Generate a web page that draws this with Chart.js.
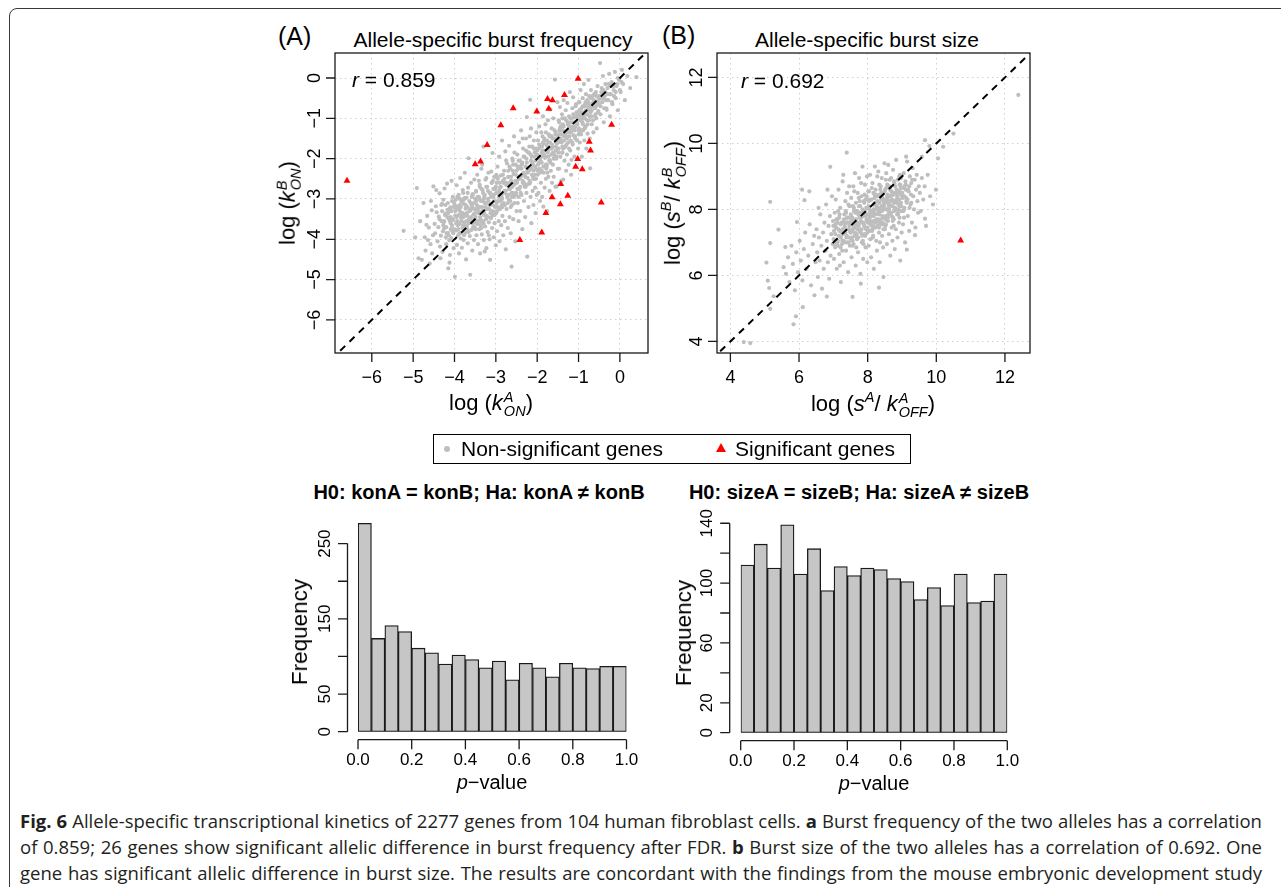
<!DOCTYPE html>
<html>
<head>
<meta charset="utf-8">
<script src="https://cdn.jsdelivr.net/npm/chart.js@4.4.1/dist/chart.umd.min.js"></script>
<style>
  body { margin: 0; background: #fff; }
  #page { position: relative; width: 1281px; height: 887px; overflow: hidden; background: #fff;
          font-family: 'Liberation Sans', Arial, sans-serif; color: #000; }
  #frame { position: absolute; left: 9px; top: 8px; width: 1320px; height: 1000px;
           border: 1.5px solid #3a3a3a; border-radius: 8px; }
  canvas { position: absolute; }
  .c { position: absolute; white-space: nowrap; transform: translate(-50%, -50%); }
  .l { position: absolute; white-space: nowrap; transform: translateY(-50%); }
  .rot { transform: translate(-50%, -50%) rotate(-90deg); }
  .ss { display: inline-flex; flex-direction: column; vertical-align: 0.55em; font-size: 0.66em;
        font-style: italic; line-height: 0.95; margin-left: 1px; }
  .sp { font-size: 0.66em; font-style: italic; vertical-align: 0.6em; }
  .cap { position: absolute; left: 20px; width: 1242px; font-family: 'Open Sans', sans-serif;
         font-size: 18.5px; color: #231f20; white-space: nowrap; transform: translateY(-50%); }
</style>
</head>
<body>
<div id="page">
  <div id="frame"></div>

  <div class="l" style="left:278px;top:36px;font-size:25px">(A)</div>
  <div class="c" style="left:493px;top:40px;font-size:21px">Allele-specific burst frequency</div>
  <div class="l" style="left:662px;top:35px;font-size:25px">(B)</div>
  <div class="c" style="left:867px;top:40px;font-size:21px">Allele-specific burst size</div>

  <canvas id="freq" width="400" height="400" style="left:260px;top:20px"></canvas>
  <canvas id="size" width="410" height="400" style="left:640px;top:20px"></canvas>

  <div class="l" style="left:352px;top:80px;font-size:21px"><i>r</i> = 0.859</div>
  <div class="l" style="left:741px;top:81px;font-size:21px"><i>r</i> = 0.692</div>

  <div class="c" style="left:491px;top:404px;font-size:22px">log (<i>k</i><span class="ss"><span>A</span><span>ON</span></span>)</div>
  <div class="c rot" style="left:289px;top:203px;font-size:22px">log (<i>k</i><span class="ss"><span>B</span><span>ON</span></span>)</div>
  <div class="c" style="left:873px;top:404px;font-size:22px">log (<i>s</i><span class="sp">A</span>/ <i>k</i><span class="ss"><span>A</span><span>OFF</span></span>)</div>
  <div class="c rot" style="left:673px;top:203px;font-size:22px">log (<i>s</i><span class="sp">B</span>/ <i>k</i><span class="ss"><span>B</span><span>OFF</span></span>)</div>

  <div style="position:absolute;left:433px;top:434px;width:476px;height:28px;border:1.5px solid #000"></div>
  <div style="position:absolute;left:444px;top:446px;width:6px;height:6px;border-radius:50%;background:#bebebe"></div>
  <div class="l" style="left:461px;top:449px;font-size:21px">Non-significant genes</div>
  <div style="position:absolute;left:716px;top:443px;width:0;height:0;border-left:5px solid transparent;border-right:5px solid transparent;border-bottom:9px solid #ff0000"></div>
  <div class="l" style="left:735px;top:449px;font-size:21px">Significant genes</div>

  <div class="c" style="left:479px;top:492px;font-size:20px;font-weight:bold">H0: konA = konB; Ha: konA ≠ konB</div>
  <div class="c" style="left:859px;top:492px;font-size:20px;font-weight:bold">H0: sizeA = sizeB; Ha: sizeA ≠ sizeB</div>

  <canvas id="histKon" width="370" height="300" style="left:280px;top:500px"></canvas>
  <canvas id="histSize" width="370" height="300" style="left:660px;top:500px"></canvas>

  <div class="c rot" style="left:300px;top:632px;font-size:22.5px">Frequency</div>
  <div class="c rot" style="left:684px;top:633px;font-size:22.5px">Frequency</div>
  <div class="c" style="left:492px;top:782px;font-size:20px"><i>p</i>−value</div>
  <div class="c" style="left:874px;top:783px;font-size:20px"><i>p</i>−value</div>

  <div class="cap" style="top:820px"><span><b>Fig. 6</b> Allele-specific transcriptional kinetics of 2277 genes from 104 human fibroblast cells. <b>a</b> Burst frequency of the two alleles has a correlation</span></div>
  <div class="cap" style="top:846px"><span>of 0.859; 26 genes show significant allelic difference in burst frequency after FDR. <b>b</b> Burst size of the two alleles has a correlation of 0.692. One</span></div>
  <div class="cap" style="top:872px"><span>gene has significant allelic difference in burst size. The results are concordant with the findings from the mouse embryonic development study</span></div>
</div>

<script>
// ---- tick values ----
var freqTicks = [-6, -5, -4, -3, -2, -1, 0];
var sizeTicks = [4, 6, 8, 10, 12];
var pTicks = [0, 0.2, 0.4, 0.6, 0.8, 1.0];
var pTickLabels = ['0.0', '0.2', '0.4', '0.6', '0.8', '1.0'];
var konTicks = [0, 50, 100, 150, 200, 250];
var konTickLabels = ['0', '50', '', '150', '', '250'];
var sizeHistTicks = [0, 20, 40, 60, 80, 100, 120, 140];
var sizeHistLabels = ['0', '20', '', '60', '', '100', '', '140'];

// ---- histograms (20 bins of p-value) ----
var pBins = [0.025, 0.075, 0.125, 0.175, 0.225, 0.275, 0.325, 0.375, 0.425, 0.475,
             0.525, 0.575, 0.625, 0.675, 0.725, 0.775, 0.825, 0.875, 0.925, 0.975];
var konCounts = [277, 124, 141, 133, 111, 105, 90, 102, 96, 85, 94, 69, 91, 85, 73, 91, 85, 84, 87, 87];
var sizeCounts = [112, 126, 110, 139, 106, 123, 95, 111, 105, 110, 109, 103, 101, 89, 97, 85, 106, 87, 88, 106];

// ---- (A) burst frequency, significant genes ----
var freqSig = [[-6.60,-2.55],[-1.01,-0.02],[-2.58,-0.75],[-2.01,-0.83],[-1.75,-0.52],[-1.63,-0.55],
  [-1.34,-0.42],[-1.72,-0.76],[-2.88,-1.17],[-0.20,-1.16],[-3.21,-1.66],[-0.74,-1.58],[-0.71,-1.80],
  [-3.50,-2.14],[-3.37,-2.07],[-1.02,-2.01],[-1.07,-2.20],[-0.91,-2.26],[-1.43,-2.63],[-1.64,-2.96],
  [-1.26,-2.92],[-1.44,-3.13],[-0.45,-3.09],[-1.79,-3.35],[-1.89,-3.83],[-2.42,-4.02]];

// ---- (A) burst frequency, non-significant genes: spread of the cloud ----
var freqGray = [
  [-5.23,-3.79],[-4.87,-4.47],[-4.79,-4.51],[-4.91,-2.73],[-4.51,-2.69],[-4.72,-3.95],[-4.66,-3.42],[-4.58,-4.12],
  [-4.62,-3.71],[-4.55,-3.28],[-4.7,-4.28],[-4.83,-3.55],[-4.52,-3.9],[-4.6,-4.6],[-4.95,-3.95],[-4.75,-3.1],
  [-4.54,-4.35],[-4.68,-3.64],[-4.57,-3.05],[-4.64,-4.02],
  [-4.48,-3.62],[-4.45,-3.18],[-4.41,-4.05],[-4.38,-3.44],[-4.36,-2.86],[-4.33,-3.91],[-4.31,-3.55],[-4.29,-4.31],
  [-4.27,-3.02],[-4.25,-3.73],[-4.22,-3.36],[-4.2,-4.12],[-4.18,-2.62],[-4.16,-3.84],[-4.14,-3.49],[-4.12,-4.58],
  [-4.1,-3.21],[-4.08,-3.97],[-4.06,-3.66],[-4.04,-2.95],[-4.02,-4.22],[-4.47,-3.85],[-4.43,-3.33],[-4.39,-3.7],
  [-4.35,-4.18],[-4.3,-3.12],[-4.26,-3.58],[-4.21,-3.95],[-4.17,-3.27],[-4.13,-4.02],[-4.09,-3.45],[-4.05,-3.8],
  [-4.01,-3.1],[-4.44,-2.78],[-4.34,-4.47],[-4.24,-2.74],[-4.15,-4.72],[-4.11,-4.39],[-4.07,-2.55],[-4.03,-3.52],
  [-3.99,-4.93],[-3.98,-3.41],[-3.97,-3.02],[-3.96,-3.78],[-3.95,-2.66],[-3.94,-4.14],[-3.93,-3.55],[-3.92,-3.19],
  [-3.91,-3.9],[-3.9,-2.9],[-3.89,-4.35],[-3.88,-3.62],[-3.87,-3.3],[-3.86,-2.48],[-3.85,-3.98],[-3.84,-3.47],
  [-3.83,-3.07],[-3.82,-4.21],[-3.81,-3.72],[-3.8,-2.78],[-3.79,-3.36],[-3.78,-4.02],[-3.77,-3.13],[-3.76,-3.58],
  [-3.75,-2.35],[-3.74,-3.84],[-3.73,-3.24],[-3.72,-4.5],[-3.71,-2.97],[-3.7,-3.66],[-3.69,-3.42],[-3.68,-4.1],
  [-3.67,-2.72],[-3.66,-1.99],[-3.65,-3.51],[-3.64,-3.05],[-3.63,-3.92],[-3.62,-4.88],[-3.61,-3.28],[-3.6,-2.6],
  [-3.59,-3.77],[-3.58,-3.16],[-3.57,-4.28],[-3.56,-2.88],[-3.55,-3.6],[-3.54,-3.38],[-3.53,-4.02],[-3.52,-2.52],
  [-3.51,-3.7],[-3.5,-3.0],[-3.96,-3.25],[-3.86,-3.85],[-3.76,-2.98],[-3.66,-3.82],[-3.56,-3.22],
  [-3.49,-3.45],[-3.48,-2.82],[-3.47,-3.9],[-3.46,-3.15],[-3.45,-2.4],[-3.44,-3.62],[-3.43,-4.12],[-3.42,-3.3],
  [-3.41,-2.95],[-3.4,-3.75],[-3.39,-2.65],[-3.38,-4.35],[-3.37,-3.5],[-3.36,-3.05],[-3.35,-2.25],[-3.34,-3.88],
  [-3.33,-3.2],[-3.32,-2.78],[-3.31,-3.55],[-3.3,-1.7],[-3.29,-4.02],[-3.28,-3.35],[-3.27,-2.9],[-3.26,-3.68],
  [-3.25,-2.52],[-3.24,-3.1],[-3.23,-4.22],[-3.22,-3.42],[-3.21,-2.7],[-3.2,-3.82],[-3.19,-3.0],[-3.18,-2.35],
  [-3.17,-3.58],[-3.16,-3.25],[-3.15,-4.0],[-3.14,-4.51],[-3.13,-2.85],[-3.12,-3.48],[-3.11,-3.12],[-3.1,-2.6],
  [-3.09,-3.72],[-3.08,-1.86],[-3.07,-3.38],[-3.06,-2.95],[-3.05,-3.95],[-3.04,-2.45],[-3.03,-3.6],[-3.02,-3.18],
  [-3.01,-2.75],[-3.0,-4.15],[-3.47,-3.25],[-3.41,-2.55],[-3.35,-3.72],[-3.29,-3.0],[-3.23,-2.48],[-3.17,-3.9],
  [-3.11,-2.32],[-3.05,-3.32],[-3.33,-2.15],[-3.27,-4.3],
  [-2.99,-3.35],[-2.98,-2.6],[-2.97,-3.8],[-2.96,-2.2],[-2.95,-3.05],[-2.94,-2.85],[-2.93,-3.55],[-2.92,-1.95],
  [-2.91,-4.05],[-2.9,-2.72],[-2.89,-3.22],[-2.88,-2.42],[-2.87,-3.65],[-2.86,-2.95],[-2.85,-1.55],[-2.84,-3.42],
  [-2.83,-2.55],[-2.82,-3.9],[-2.81,-3.1],[-2.8,-2.3],[-2.79,-2.8],[-2.78,-3.55],[-2.77,-1.82],[-2.76,-4.25],
  [-2.75,-2.65],[-2.74,-3.25],[-2.73,-2.12],[-2.72,-2.95],[-2.71,-3.72],[-2.7,-2.45],[-2.69,-3.02],[-2.68,-1.68],
  [-2.67,-3.45],[-2.66,-2.75],[-2.65,-2.25],[-2.64,-3.85],[-2.63,-2.55],[-2.62,-4.68],[-2.61,-3.15],[-2.6,-2.0],
  [-2.59,-2.85],[-2.58,-3.5],[-2.57,-2.38],[-2.56,-1.45],[-2.55,-3.1],[-2.54,-2.62],[-2.53,-4.05],[-2.52,-2.15],
  [-2.51,-2.9],[-2.5,-3.3],[-2.97,-2.45],[-2.86,-3.15],[-2.75,-2.05],[-2.64,-3.2],[-2.55,-1.85],
  [-2.49,-2.55],[-2.48,-1.9],[-2.47,-3.1],[-2.46,-2.25],[-2.45,-3.55],[-2.44,-1.6],[-2.43,-2.75],[-2.42,-2.05],
  [-2.41,-3.3],[-2.4,-2.45],[-2.39,-1.3],[-2.38,-2.9],[-2.37,-2.15],[-2.36,-3.75],[-2.35,-2.6],[-2.34,-1.75],
  [-2.33,-2.35],[-2.32,-3.05],[-2.31,-1.95],[-2.3,-2.7],[-2.29,-3.45],[-2.28,-2.2],[-2.27,-1.5],[-2.26,-2.85],
  [-2.25,-0.97],[-2.24,-4.43],[-2.23,-2.48],[-2.22,-1.85],[-2.21,-3.2],[-2.2,-2.3],[-2.19,-2.62],[-2.18,-1.45],
  [-2.17,-0.54],[-2.16,-2.95],[-2.15,-2.05],[-2.14,-3.6],[-2.13,-2.4],[-2.12,-1.7],[-2.11,-2.8],[-2.1,-2.15],
  [-2.09,-3.15],[-2.08,-1.55],[-2.07,-2.5],[-2.06,-1.95],[-2.05,-2.72],[-2.04,-3.35],[-2.03,-2.25],[-2.02,-1.35],
  [-2.01,-2.9],[-2.0,-1.8],[-2.45,-2.95],[-2.35,-1.5],[-2.25,-2.65],[-2.15,-1.25],[-2.05,-2.4],
  [-1.99,-2.4],[-1.98,-1.55],[-1.97,-2.85],[-1.96,-1.95],[-1.95,-1.2],[-1.94,-2.25],[-1.93,-3.05],[-1.92,-1.7],
  [-1.91,-2.6],[-1.9,-1.35],[-1.89,-2.1],[-1.88,-2.95],[-1.87,-1.8],[-1.86,-0.95],[-1.85,-3.19],[-1.84,-2.35],
  [-1.83,-1.5],[-1.82,-2.72],[-1.81,-1.98],[-1.8,-1.15],[-1.79,-2.5],[-1.78,-1.65],[-1.77,-2.2],[-1.76,-3.3],
  [-1.75,-1.85],[-1.74,-1.05],[-1.73,-2.45],[-1.72,-1.4],[-1.71,-2.05],[-1.7,-2.8],[-1.69,-1.6],[-1.68,-0.78],
  [-1.67,-2.3],[-1.66,-1.9],[-1.65,-1.25],[-1.64,-2.6],[-1.63,-1.72],[-1.62,-2.15],[-1.61,-1.0],[-1.6,-2.45],
  [-1.59,-1.5],[-1.58,-1.95],[-1.57,-0.04],[-1.56,-2.7],[-1.55,-1.35],[-1.54,-2.0],[-1.53,-2.69],[-1.52,-1.62],
  [-1.51,-0.6],[-1.5,-2.25],[-1.95,-2.1],[-1.85,-1.62],[-1.75,-2.35],[-1.65,-1.45],[-1.55,-1.8],
  [-1.49,-1.75],[-1.48,-1.05],[-1.47,-2.25],[-1.46,-1.4],[-1.45,-0.72],[-1.44,-1.95],[-1.43,-1.2],[-1.42,-2.55],
  [-1.41,-1.6],[-1.4,-0.9],[-1.39,-1.85],[-1.38,-1.3],[-1.37,-2.52],[-1.36,-0.55],[-1.35,-1.55],[-1.34,-2.05],
  [-1.33,-1.0],[-1.32,-1.7],[-1.31,-0.8],[-1.3,-2.3],[-1.29,-1.35],[-1.28,-1.9],[-1.27,-0.62],[-1.26,-1.15],
  [-1.25,-1.6],[-1.24,-2.15],[-1.23,-0.95],[-1.22,-1.45],[-1.21,-0.35],[-1.2,-1.8],[-1.19,-1.1],[-1.18,-2.4],
  [-1.17,-2.03],[-1.16,-1.28],[-1.15,-0.75],[-1.14,-1.65],[-1.13,-0.48],[-1.12,-1.42],[-1.11,-0.98],[-1.1,-1.95],
  [-1.08,-1.2],[-1.06,-0.65],[-1.04,-1.55],[-1.02,-0.88],[-1.01,-1.75],
  [-0.99,-1.25],[-0.98,-0.6],[-0.97,-1.6],[-0.96,-0.92],[-0.95,-0.3],[-0.94,-1.4],[-0.93,-0.75],[-0.92,-1.95],
  [-0.91,-1.1],[-0.9,-0.5],[-0.89,-1.3],[-0.88,-0.85],[-0.87,-0.15],[-0.86,-1.55],[-0.85,-1.0],[-0.84,-0.65],
  [-0.83,-1.2],[-0.82,-0.4],[-0.81,-1.75],[-0.8,-0.9],[-0.79,-0.55],[-0.78,-1.38],[-0.77,-0.72],[-0.76,-0.05],
  [-0.75,-1.05],[-0.74,-0.45],[-0.73,-1.5],[-0.72,-2.24],[-0.71,-0.85],[-0.7,-0.3],[-0.68,-1.15],[-0.66,-0.62],
  [-0.64,-1.35],[-0.62,-0.4],[-0.6,-0.95],[-0.58,-0.7],[-0.56,-1.25],[-0.54,-0.2],[-0.52,-0.82],[-0.5,-0.5],
  [-0.48,0.37],[-0.47,-0.9],[-0.45,-0.35],[-0.43,-0.6],[-0.41,0.05],[-0.39,-1.1],[-0.37,-0.45],[-0.35,-0.15],
  [-0.33,-0.75],[-0.32,-0.79],[-0.3,-0.25],[-0.28,-0.55],[-0.26,0.1],[-0.24,-0.95],[-0.22,-0.4],[-0.2,-0.1],
  [-0.18,-0.65],[-0.15,-0.3],[-0.12,0.15],[-0.1,-0.5],[-0.08,-0.2],[-0.05,-0.8],[-0.02,-0.05],[0.02,-0.35],
  [0.05,0.2],[0.08,-0.15],[0.12,-0.55],[0.18,0.05],[0.25,-0.25],[0.4,0.02]
];

// ---- (A) the dense core of the cloud along the diagonal band ----
var freqCore = [
  [-4.3,-3.3],[-4.28,-3.8],[-4.25,-3.55],[-4.22,-3.15],[-4.2,-3.7],[-4.17,-3.45],[-4.14,-3.9],[-4.12,-3.25],[-4.09,-3.6],[-4.06,-3.05],
  [-4.04,-3.5],[-4.01,-3.75],[-3.98,-3.3],[-3.96,-3.6],[-3.93,-2.95],[-3.9,-3.4],[-3.88,-3.85],[-3.85,-3.2],[-3.83,-3.55],[-3.8,-3.05],
  [-3.78,-3.45],[-3.75,-3.7],[-3.73,-3.15],[-3.7,-3.35],[-3.68,-2.85],[-3.65,-3.6],[-3.63,-3.25],[-3.6,-3.45],[-3.58,-2.95],[-3.55,-3.7],
  [-3.53,-3.1],[-3.5,-3.35],[-3.48,-2.8],[-3.45,-3.55],[-3.43,-3.2],[-3.4,-3.0],[-3.38,-3.45],[-3.35,-2.75],[-3.33,-3.3],[-3.3,-3.6],
  [-3.28,-2.95],[-3.25,-3.2],[-3.23,-2.7],[-3.2,-3.45],[-3.18,-3.05],[-3.15,-2.85],[-3.13,-3.35],[-3.1,-2.6],[-3.08,-3.15],[-3.05,-2.9],
  [-3.03,-3.4],[-3.0,-2.7],[-2.98,-3.1],[-2.95,-2.5],[-2.93,-2.95],[-2.9,-3.25],[-2.88,-2.7],[-2.85,-3.0],[-2.83,-2.4],[-2.8,-2.85],
  [-2.78,-3.15],[-2.75,-2.6],[-2.73,-2.9],[-2.7,-2.3],[-2.68,-2.75],[-2.65,-3.05],[-2.63,-2.45],[-2.6,-2.7],[-2.58,-2.15],[-2.55,-2.9],
  [-2.53,-2.55],[-2.5,-2.3],[-2.48,-2.75],[-2.45,-2.05],[-2.43,-2.5],[-2.4,-2.85],[-2.38,-2.25],[-2.35,-2.55],[-2.33,-1.95],[-2.3,-2.4],
  [-2.28,-2.7],[-2.25,-2.1],[-2.23,-2.35],[-2.2,-1.85],[-2.18,-2.55],[-2.15,-2.2],[-2.13,-1.95],[-2.1,-2.45],[-2.08,-1.75],[-2.05,-2.2],
  [-2.03,-2.5],[-2.0,-1.9],[-1.98,-2.15],[-1.95,-1.65],[-1.93,-2.35],[-1.9,-1.95],[-1.88,-1.7],[-1.85,-2.2],[-1.83,-1.55],[-1.8,-1.95],
  [-1.78,-2.25],[-1.75,-1.7],[-1.73,-1.95],[-1.7,-1.45],[-1.68,-2.1],[-1.65,-1.75],[-1.63,-1.5],[-1.6,-2.0],[-1.58,-1.3],[-1.55,-1.7],
  [-1.53,-1.95],[-1.5,-1.45],[-1.48,-1.75],[-1.45,-1.25],[-1.43,-1.55],[-1.4,-1.85],[-1.38,-1.15],[-1.35,-1.45],[-1.33,-1.7],[-1.3,-1.05],
  [-1.28,-1.5],[-1.25,-1.3],[-1.23,-1.75],[-1.2,-1.0],[-1.18,-1.35],[-1.15,-1.6],[-1.13,-0.9],[-1.1,-1.25],[-1.08,-1.5],[-1.05,-0.85],
  [-1.03,-1.15],[-1.0,-1.4],[-0.98,-0.8],[-0.95,-1.05],[-0.93,-1.3],[-0.9,-0.7],[-0.88,-1.0],[-0.85,-1.25],[-0.83,-0.6],[-0.8,-0.9],
  [-0.78,-1.15],[-0.75,-0.65],[-0.73,-0.95],[-0.7,-0.5],[-0.68,-0.8],[-0.65,-1.05],[-0.63,-0.55],[-0.6,-0.75],[-0.58,-0.35],[-0.55,-0.6],
  [-0.53,-0.85],[-0.5,-0.45],[-0.47,-0.7],[-0.44,-0.25],[-0.41,-0.5],[-0.38,-0.75],[-0.35,-0.35],[-0.31,-0.55],[-0.27,-0.15],[-0.23,-0.4],
  [-0.19,-0.6],[-0.15,-0.2],[-0.1,-0.35],[-0.05,0.0],[0.0,-0.3],
  [-4.15,-3.35],[-4.02,-3.2],[-3.92,-3.65],[-3.81,-3.35],[-3.71,-3.55],[-3.61,-3.1],[-3.52,-3.5],[-3.42,-3.35],[-3.32,-3.05],[-3.22,-3.25],
  [-3.12,-2.95],[-3.02,-3.2],[-2.92,-2.8],[-2.82,-2.6],[-2.72,-2.65],[-2.62,-2.85],[-2.52,-2.4],[-2.42,-2.2],[-2.32,-2.6],[-2.22,-2.25],
  [-2.12,-2.1],[-2.02,-1.75],[-1.92,-2.05],[-1.82,-1.8],[-1.72,-1.6],[-1.62,-1.85],[-1.52,-1.55],[-1.42,-1.4],[-1.32,-1.35],[-1.22,-1.2],
  [-1.12,-1.1],[-1.02,-0.95],[-0.92,-0.9],[-0.82,-0.8],[-0.72,-0.75],[-0.62,-0.65],[-0.52,-0.55],[-0.42,-0.4],[-3.87,-3.0],[-3.47,-3.05],
  [-3.07,-2.55],[-2.67,-2.2],[-2.27,-1.8],[-1.87,-1.45],[-1.47,-1.1],[-1.07,-0.7],[-3.77,-3.9],[-3.37,-3.65],[-2.97,-3.3],[-2.57,-2.95],
  [-2.17,-2.6],[-1.77,-2.15],[-1.37,-1.75],[-0.97,-1.35],[-0.57,-1.0],
  [-4.36,-3.5],[-4.32,-3.15],[-4.27,-3.65],[-4.23,-3.4],[-4.19,-3.85],[-4.16,-3.1],[-4.11,-3.55],[-4.07,-3.3],[-4.03,-3.85],[-3.99,-3.15],
  [-3.95,-3.45],[-3.91,-3.75],[-3.87,-3.15],[-3.84,-3.4],[-3.79,-3.65],[-3.76,-3.0],[-3.72,-3.4],[-3.69,-3.75],[-3.64,-3.3],[-3.59,-3.55],
  [-3.56,-2.9],[-3.51,-3.25],[-3.46,-3.6],[-3.44,-2.95],[-3.39,-3.2],[-3.36,-3.55],[-3.31,-2.85],[-3.27,-3.1],[-3.24,-3.5],[-3.19,-2.8],
  [-3.16,-3.15],[-3.11,-3.45],[-3.06,-2.75],[-3.04,-3.05],[-2.99,-2.85],[-2.96,-3.2],[-2.91,-2.6],[-2.87,-2.9],[-2.84,-3.2],[-2.79,-2.5],
  [-2.76,-2.8],[-2.71,-3.1],[-2.69,-2.45],[-2.66,-2.6],[-2.61,-2.95],[-2.59,-2.3],[-2.56,-2.65],[-2.51,-2.85],[-2.47,-2.2],[-2.44,-2.45],
  [-2.41,-2.7],[-2.36,-2.1],[-2.34,-2.4],[-2.31,-2.65],[-2.26,-2.0],[-2.24,-2.3],[-2.19,-2.6],[-2.16,-1.9],[-2.14,-2.25],[-2.09,-2.5],
  [-2.06,-1.85],[-2.04,-2.05],[-1.99,-2.3],[-1.96,-1.75],[-1.94,-2.0],[-1.89,-2.3],[-1.86,-1.6],[-1.84,-1.9],[-1.79,-2.15],[-1.76,-1.55],
  [-1.74,-1.8],[-1.69,-2.05],[-1.66,-1.45],[-1.64,-1.65],[-1.59,-1.9],[-1.56,-1.4],[-1.54,-1.6],[-1.49,-1.85],[-1.46,-1.3],[-1.44,-1.5],
  [-1.39,-1.7],[-1.36,-1.2],[-1.34,-1.4],[-1.29,-1.65],[-1.26,-1.1],[-1.24,-1.35],[-1.19,-1.55],[-1.16,-1.0],[-1.14,-1.2],[-1.09,-1.45],
  [-1.06,-0.95],[-1.04,-1.1],[-0.99,-1.3],[-0.96,-0.85],[-0.94,-1.0],[-0.89,-1.15],[-0.86,-0.7],[-0.84,-0.9],[-0.79,-1.05],[-0.76,-0.6],
  [-0.74,-0.8],[-0.69,-0.95],[-0.66,-0.45],[-0.64,-0.7],[-0.59,-0.9],[-0.56,-0.45],[-0.51,-0.65],[-0.46,-0.5],[-0.4,-0.3],[-0.34,-0.55],
  [-0.29,-0.4],[-0.21,-0.2],[-0.14,-0.45],[-0.07,-0.15],[0.04,-0.1],
  [-4.09,-3.75],[-3.89,-3.25],[-3.69,-3.2],[-3.49,-3.75],[-3.29,-3.4],[-3.09,-3.3],[-2.89,-3.05],[-2.69,-2.9],[-2.49,-2.6],[-2.29,-2.45],
  [-2.09,-2.3],[-1.89,-1.85],[-1.69,-1.75],[-1.49,-1.6],[-1.29,-1.45],[-1.09,-1.3],[-0.89,-0.95],[-0.69,-0.7],[-3.79,-2.85],[-3.39,-2.7],
  [-2.99,-2.4],[-2.59,-2.05],[-2.19,-1.7],[-1.79,-1.35],[-1.39,-1.0],[-0.99,-0.6]
];

// ---- (B) burst size ----
var sizeSig = [[10.71, 7.06]];
var sizeGray = [
  [12.39,11.47],[10.5,10.3],[9.8,9.92],[9.67,10.1],[7.39,9.72],[6.91,9.29],[6.09,8.6],[5.16,8.23],
  [5.4,7.39],[5.94,7.62],[6.16,8.28],[5.05,6.39],[5.16,6.98],[5.6,6.86],[5.09,5.84],[5.13,5.62],
  [5.26,5.37],[5.16,4.99],[5.91,4.76],[5.84,4.52],[6.11,5.04],[4.39,3.98],[4.58,3.95],[6.81,5.36],
  [7.56,5.35],[7.8,5.75],[8.33,5.63],[9.14,6.78],[9.67,7.72],[9.99,8.6],[9.38,7.22],[8.46,5.95],
  [5.55,6.25],[5.62,6.05],[5.68,6.55],[5.72,5.8],[5.78,6.9],[5.82,6.35],[5.88,5.55],[5.92,6.7],
  [5.97,6.1],[6.02,7.05],[6.05,6.45],[6.1,5.85],[6.14,6.8],[6.18,7.3],[6.22,6.2],[6.27,6.6],
  [6.31,7.55],[6.35,5.7],[6.4,6.95],[6.44,7.2],[6.48,6.4],[6.3,8.55],[6.45,5.4],
  [6.51,7.4],[6.53,6.7],[6.55,5.95],[6.58,7.15],[6.6,6.45],[6.62,7.85],[6.65,6.9],[6.67,5.6],
  [6.7,7.3],[6.72,6.2],[6.74,7.6],[6.77,6.75],[6.79,8.15],[6.81,7.05],[6.84,6.4],[6.86,7.5],
  [6.88,5.9],[6.9,7.8],[6.92,6.6],[6.94,7.25],[6.96,8.4],[6.98,6.95],[6.99,7.65],[6.57,8.05],[6.83,8.6],
  [7.01,7.1],[7.02,6.5],[7.04,7.9],[7.05,6.85],[7.07,8.3],[7.08,7.45],[7.1,6.2],[7.12,7.7],
  [7.13,7.05],[7.15,8.6],[7.17,6.65],[7.18,7.35],[7.2,8.05],[7.22,5.8],[7.23,7.6],[7.25,6.95],
  [7.27,8.85],[7.28,7.25],[7.3,6.4],[7.32,7.85],[7.33,7.5],[7.35,8.25],[7.37,6.75],[7.38,7.15],
  [7.4,8.5],[7.42,7.75],[7.43,6.1],[7.45,7.4],[7.47,8.1],[7.48,6.9],[7.49,7.6],[7.06,7.55],
  [7.19,6.3],[7.29,9.05],[7.41,7.0],[7.46,8.7],
  [7.51,7.3],[7.52,8.35],[7.53,6.55],[7.55,7.75],[7.56,7.05],[7.58,8.7],[7.59,6.95],[7.6,7.95],
  [7.62,7.45],[7.63,9.1],[7.65,6.3],[7.66,8.2],[7.68,7.6],[7.69,7.15],[7.71,8.5],[7.72,6.7],
  [7.73,7.85],[7.75,8.95],[7.76,7.35],[7.78,8.1],[7.79,6.05],[7.8,7.65],[7.82,8.4],[7.83,7.0],
  [7.85,9.3],[7.86,7.9],[7.87,6.5],[7.89,8.25],[7.9,7.5],[7.92,8.75],[7.93,7.2],[7.94,6.85],
  [7.96,8.05],[7.97,7.7],[7.98,9.0],[7.99,6.4],[7.54,7.55],[7.61,8.55],[7.67,6.85],[7.74,7.5],
  [7.81,8.8],[7.84,7.25],[7.88,6.95],[7.91,8.45],[7.95,7.4],
  [8.01,7.6],[8.02,8.55],[8.03,6.9],[8.05,8.0],[8.06,7.35],[8.07,9.05],[8.09,7.8],[8.1,6.55],
  [8.11,8.3],[8.13,7.5],[8.14,8.8],[8.15,7.15],[8.17,8.15],[8.18,6.2],[8.19,7.9],[8.21,9.3],
  [8.22,7.45],[8.23,8.6],[8.25,7.05],[8.26,8.05],[8.27,6.75],[8.29,8.4],[8.3,7.7],[8.31,9.15],
  [8.33,7.3],[8.34,8.2],[8.35,6.4],[8.37,7.95],[8.38,8.7],[8.39,7.55],[8.41,8.95],[8.42,7.2],
  [8.43,8.35],[8.45,6.85],[8.46,8.1],[8.47,7.75],[8.49,9.4],[8.5,7.4],[8.04,8.25],[8.08,7.1],
  [8.12,8.65],[8.16,7.65],[8.2,8.45],[8.24,7.85],[8.28,9.0],[8.32,8.0],[8.36,7.0],[8.4,8.5],
  [8.44,7.6],[8.48,8.25],
  [8.51,8.6],[8.52,7.5],[8.54,9.1],[8.55,8.0],[8.56,6.95],[8.58,8.35],[8.59,7.75],[8.6,9.35],
  [8.62,7.25],[8.63,8.7],[8.64,8.15],[8.66,6.6],[8.67,7.9],[8.68,8.95],[8.7,7.45],[8.71,8.45],
  [8.72,7.05],[8.74,9.2],[8.75,8.25],[8.76,7.7],[8.78,8.8],[8.79,6.8],[8.8,8.05],[8.82,7.4],
  [8.83,9.5],[8.84,8.5],[8.86,7.85],[8.87,7.15],[8.88,8.9],[8.9,8.3],[8.91,7.6],[8.92,9.0],
  [8.94,8.1],[8.95,6.45],[8.96,8.65],[8.98,7.95],[8.99,7.3],[8.53,8.9],[8.61,8.0],[8.69,8.55],
  [8.77,7.95],[8.85,8.2],[8.93,8.75],
  [9.01,8.4],[9.03,7.55],[9.05,9.1],[9.07,8.05],[9.09,7.0],[9.11,8.75],[9.13,8.25],[9.15,9.45],
  [9.17,7.8],[9.19,8.55],[9.21,7.35],[9.23,9.0],[9.25,8.15],[9.27,8.8],[9.29,7.6],[9.31,9.25],
  [9.33,8.4],[9.35,8.0],[9.37,8.9],[9.39,7.45],[9.41,8.6],[9.43,9.05],[9.45,8.25],[9.47,7.9],
  [9.49,8.7],[9.12,9.6],
  [9.52,8.5],[9.55,7.95],[9.58,8.95],[9.62,8.3],[9.66,8.7],[9.7,7.5],[9.75,9.05],[9.82,8.4],
  [9.9,8.15],[10.05,9.55],[10.2,9.9],[9.58,9.6]
];

// ---- (B) the dense core of the ellipse ----
var sizeCore = [
  [7.0,7.5],[7.03,6.95],[7.06,7.25],[7.09,7.7],[7.12,7.0],[7.15,7.4],[7.18,7.85],[7.21,6.85],[7.24,7.3],[7.27,7.6],
  [7.3,7.05],[7.33,7.45],[7.36,7.95],[7.39,7.2],[7.42,7.6],[7.45,7.0],[7.48,7.35],[7.51,7.85],[7.54,7.15],[7.57,7.55],
  [7.6,8.05],[7.63,7.3],[7.66,7.7],[7.69,7.1],[7.72,7.5],[7.75,8.1],[7.78,7.35],[7.81,7.75],[7.84,7.2],[7.87,7.6],
  [7.9,8.2],[7.93,7.45],[7.96,7.85],[7.99,7.3],[8.02,7.7],[8.05,8.3],[8.08,7.55],[8.11,7.95],[8.14,7.4],[8.17,7.8],
  [8.2,8.35],[8.23,7.6],[8.26,8.0],[8.29,7.5],[8.32,7.9],[8.35,8.45],[8.38,7.7],[8.41,8.1],[8.44,7.55],[8.47,8.0],
  [8.5,8.55],[8.53,7.8],[8.56,8.2],[8.59,7.65],[8.62,8.1],[8.65,8.6],[8.68,7.9],[8.71,8.3],[8.74,7.75],[8.77,8.2],
  [8.8,8.7],[8.83,8.0],[8.86,8.4],[8.89,7.85],[8.92,8.3],[8.95,8.75],[8.98,8.1],[9.01,8.5],[9.04,7.95],[9.07,8.4],
  [9.1,8.85],[9.14,8.2],[9.18,8.6],[9.22,8.05],[9.26,8.45],[9.3,8.9],
  [7.08,7.45],[7.22,7.15],[7.36,7.6],[7.5,7.3],[7.64,7.9],[7.78,7.6],[7.92,7.95],[8.06,7.75],[8.2,8.15],[8.34,7.85],
  [8.48,8.3],[8.62,8.0],[8.76,8.5],[8.9,8.15],[9.04,8.65],[7.14,7.95],[7.44,8.15],[7.74,8.35],[8.04,8.55],[8.34,8.75],
  [8.64,8.9],[8.94,9.05],[7.26,6.75],[7.56,6.9],[7.86,7.05],[8.16,7.2],[8.46,7.4],[8.76,7.5],[9.06,7.75],[7.7,7.95],
  [7.98,8.05],[8.28,8.25],[8.58,8.45],[8.12,7.6],[8.42,7.95],[8.72,8.1],[7.82,7.4],[7.52,7.65],[8.0,7.45],[8.3,7.65],
  [8.6,7.85],[8.9,8.0],[7.4,7.75],[7.68,7.25],[7.94,8.3],[8.24,8.45],[8.54,8.65],[8.84,8.6],[9.12,8.35],[7.6,7.45],
  [7.02,7.35],[7.07,7.05],[7.11,7.6],[7.16,7.2],[7.21,7.55],[7.26,7.05],[7.31,7.7],[7.35,7.3],[7.4,7.6],[7.44,7.15],
  [7.49,7.75],[7.53,7.35],[7.58,7.7],[7.62,7.2],[7.67,7.95],[7.71,7.4],[7.76,7.75],[7.8,7.3],[7.85,8.0],[7.89,7.55],
  [7.94,7.8],[7.98,7.4],[8.03,8.1],[8.07,7.65],[8.12,7.9],[8.16,7.5],[8.21,8.2],[8.25,7.7],[8.3,8.0],[8.34,7.6],
  [8.39,8.3],[8.43,7.8],[8.48,8.1],[8.52,7.7],[8.57,8.4],[8.61,7.95],[8.66,8.25],[8.7,7.8],[8.75,8.45],[8.79,8.05],
  [8.84,8.3],[8.88,7.9],[8.93,8.55],[8.97,8.2],[9.02,8.35],[9.06,8.0],[9.11,8.6],[9.16,8.3],[9.21,8.7],[9.27,8.2],
  [7.13,6.9],[7.33,7.0],[7.53,7.1],[7.73,7.15],[7.93,7.25],[8.13,7.35],[8.33,7.45],[8.53,7.55],[8.73,7.65],[8.93,7.75],
  [7.17,7.75],[7.37,7.9],[7.57,8.1],[7.77,8.25],[7.97,8.4],[8.17,8.5],[8.37,8.6],[8.57,8.75],[8.77,8.85],[8.97,8.95],
  [7.47,7.5],[7.87,7.8],[8.27,8.1],[8.67,8.4],[9.07,8.7],[7.27,7.4],[7.67,7.55],[8.07,7.95],[8.47,8.2],[8.87,8.5],
  [7.97,7.65],[8.37,8.05],[8.77,8.25],[7.57,7.4],[8.17,8.0],[8.57,8.3],[8.97,8.45],[7.77,7.9],[8.02,7.85],[8.42,8.45]
];

// R style axes: box, tick marks, tick labels (y labels turned like R's las=0)
var rAxes = {
  id: 'rAxes',
  afterDraw: function(chart, args, o) {
    var ctx = chart.ctx, a = chart.chartArea;
    var sx = chart.scales.x, sy = chart.scales.y;
    ctx.save();
    ctx.strokeStyle = '#1a1a1a';
    ctx.fillStyle = '#000';
    ctx.lineWidth = 1.3;
    ctx.font = o.font;
    ctx.textAlign = 'center';
    ctx.textBaseline = 'middle';
    if (o.box) ctx.strokeRect(a.left, a.top, a.right - a.left, a.bottom - a.top);

    var xAt = a.bottom + o.xGap;
    ctx.beginPath();
    if (o.lines) {
      ctx.moveTo(sx.getPixelForValue(o.xTicks[0]), xAt);
      ctx.lineTo(sx.getPixelForValue(o.xTicks[o.xTicks.length - 1]), xAt);
    }
    o.xTicks.forEach(function(v) {
      var p = sx.getPixelForValue(v);
      ctx.moveTo(p, xAt);
      ctx.lineTo(p, xAt + o.tick);
    });
    var yAt = a.left - o.yGap;
    if (o.lines) {
      ctx.moveTo(yAt, sy.getPixelForValue(o.yTicks[0]));
      ctx.lineTo(yAt, sy.getPixelForValue(o.yTicks[o.yTicks.length - 1]));
    }
    o.yTicks.forEach(function(v) {
      var p = sy.getPixelForValue(v);
      ctx.moveTo(yAt, p);
      ctx.lineTo(yAt - o.tick, p);
    });
    ctx.stroke();

    o.xTicks.forEach(function(v, i) {
      ctx.fillText(o.xLabels[i], sx.getPixelForValue(v), xAt + o.xLab);
    });
    o.yTicks.forEach(function(v, i) {
      if (!o.yLabels[i]) return;
      ctx.save();
      ctx.translate(yAt - o.yLab, sy.getPixelForValue(v));
      ctx.rotate(-Math.PI / 2);
      ctx.fillText(o.yLabels[i], 0, 0);
      ctx.restore();
    });
    ctx.restore();
  }
};

function minus(v) { return String(v).replace('-', '\u2212'); }
function pts(list) { return list.map(function(p) { return {x: p[0], y: p[1]}; }); }

function scatterChart(id, pad, xr, yr, ticks, gray, sig, axisOpts) {
  var fixTicks = function(s) { s.ticks = ticks.map(function(v) { return {value: v}; }); };
  var gridScale = function(r) {
    return {
      type: 'linear', min: r[0], max: r[1],
      afterBuildTicks: fixTicks,
      ticks: {display: false},
      grid: {color: '#cfcfcf', lineWidth: 1, drawTicks: false},
      border: {display: false, dash: [1.5, 3.5]}
    };
  };
  return new Chart(document.getElementById(id), {
    type: 'scatter',
    data: {
      datasets: [
        {data: pts(sig), pointStyle: 'triangle', pointRadius: 4, backgroundColor: '#ff0000',
         borderWidth: 0, order: 0},
        {type: 'line', data: pts([[xr[0] - 1, xr[0] - 1], [xr[1] + 1, xr[1] + 1]]),
         borderColor: '#000', borderWidth: 2, borderDash: [7, 6], pointRadius: 0, order: 1},
        {data: pts(gray), pointRadius: 2.1, backgroundColor: '#bebebe', borderWidth: 0, order: 2}
      ]
    },
    options: {
      responsive: false, animation: false, events: [],
      layout: {padding: pad, autoPadding: false},
      plugins: {legend: {display: false}, tooltip: {enabled: false}, rAxes: axisOpts},
      scales: {x: gridScale(xr), y: gridScale(yr)}
    },
    plugins: [rAxes]
  });
}

function histChart(id, pad, yMax, counts, axisOpts) {
  return new Chart(document.getElementById(id), {
    type: 'bar',
    data: {
      datasets: [{
        data: pBins.map(function(b, i) { return {x: b, y: counts[i]}; }),
        backgroundColor: '#c6c6c6', borderColor: '#1a1a1a', borderWidth: 1.3,
        borderSkipped: false, barPercentage: 1, categoryPercentage: 1
      }]
    },
    options: {
      responsive: false, animation: false, events: [],
      layout: {padding: pad, autoPadding: false},
      plugins: {legend: {display: false}, tooltip: {enabled: false}, rAxes: axisOpts},
      scales: {
        x: {type: 'linear', min: 0, max: 1, offset: false, display: true,
            ticks: {display: false}, grid: {display: false, drawTicks: false}, border: {display: false}},
        y: {type: 'linear', min: 0, max: yMax,
            ticks: {display: false}, grid: {display: false, drawTicks: false}, border: {display: false}}
      }
    },
    plugins: [rAxes]
  });
}

scatterChart('freq', {left: 75, right: 12, top: 33, bottom: 67}, [-6.89, 0.68], [-6.82, 0.62],
  freqTicks, freqGray.concat(freqCore), freqSig,
  {box: true, lines: false, xGap: 0, yGap: 0, tick: 9, xLab: 25, yLab: 20, font: '18px "Liberation Sans"',
   xTicks: freqTicks, xLabels: freqTicks.map(minus), yTicks: freqTicks, yLabels: freqTicks.map(minus)});

scatterChart('size', {left: 77, right: 20, top: 33, bottom: 67}, [3.61, 12.73], [3.65, 12.74],
  sizeTicks, sizeGray.concat(sizeCore), sizeSig,
  {box: true, lines: false, xGap: 0, yGap: 0, tick: 9, xLab: 25, yLab: 20, font: '18px "Liberation Sans"',
   xTicks: sizeTicks, xLabels: sizeTicks.map(String), yTicks: sizeTicks, yLabels: sizeTicks.map(String)});

histChart('histKon', {left: 78, right: 23.5, top: 6, bottom: 68.3}, 300, konCounts,
  {box: false, lines: true, xGap: 8, yGap: 10.5, tick: 9.5, xLab: 21, yLab: 22.5, font: '17px "Liberation Sans"',
   xTicks: pTicks, xLabels: pTickLabels, yTicks: konTicks, yLabels: konTickLabels});

histChart('histSize', {left: 80.7, right: 22.7, top: 8.3, bottom: 67.3}, 150, sizeCounts,
  {box: false, lines: true, xGap: 8, yGap: 11, tick: 9.5, xLab: 21, yLab: 22.5, font: '17px "Liberation Sans"',
   xTicks: pTicks, xLabels: pTickLabels, yTicks: sizeHistTicks, yLabels: sizeHistLabels});

// stretch each caption line to the justified width of the original
function fitCaption() {
  document.querySelectorAll('.cap').forEach(function(el) {
    var span = el.firstElementChild;
    span.style.wordSpacing = '0px';
    var w = span.getBoundingClientRect().width;
    var gaps = (span.textContent.match(/ /g) || []).length;
    span.style.wordSpacing = ((1242 - w) / gaps) + 'px';
  });
}
fitCaption();
if (document.fonts) document.fonts.ready.then(fitCaption);
</script>
</body>
</html>
